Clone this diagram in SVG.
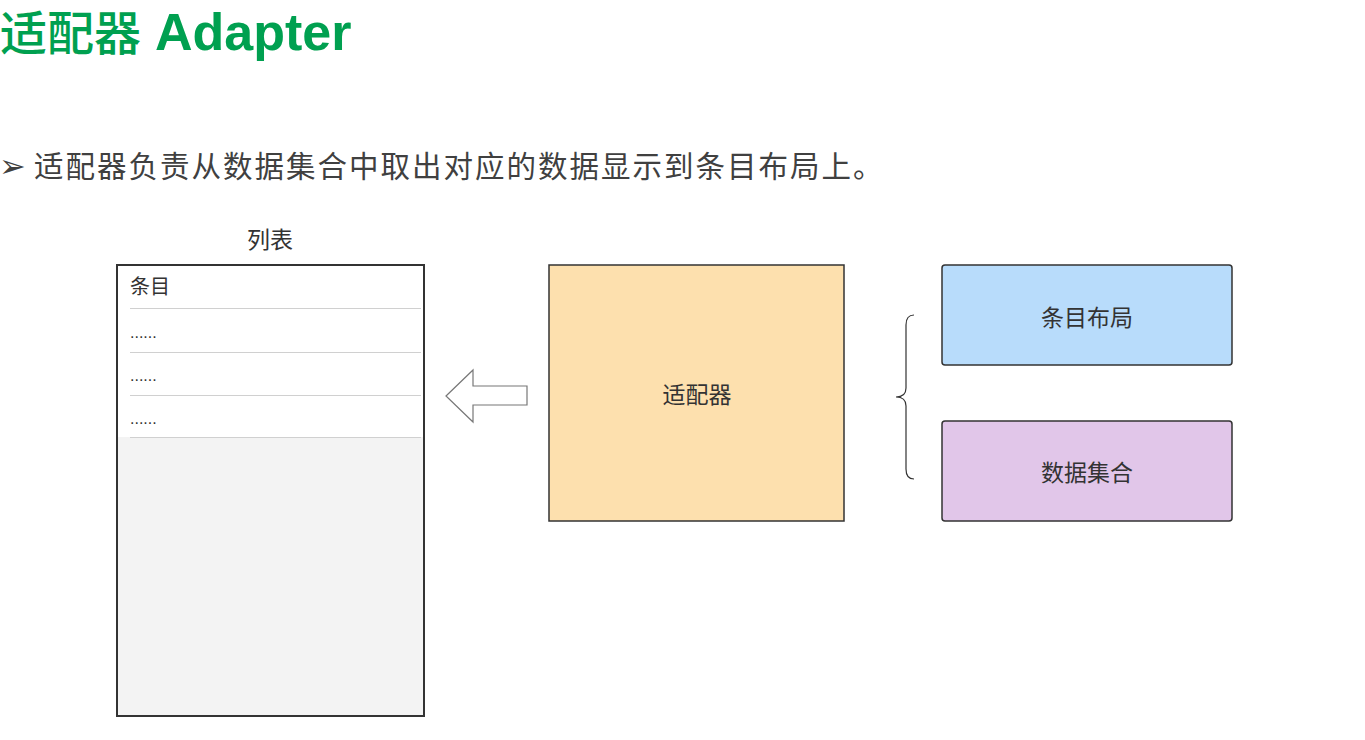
<svg xmlns="http://www.w3.org/2000/svg" width="1365" height="740" viewBox="0 0 1365 740">
<style>
.t{font-family:"Liberation Sans","Noto Sans CJK SC",sans-serif;}
.lbl{font-size:23px;fill:#333;text-anchor:middle;}
.sep{stroke:#d0d0d0;stroke-width:1;}
.dots{font-size:16px;fill:#333;}
.box{stroke:#333;stroke-width:1.5;}
</style>
<rect width="1365" height="740" fill="#fff"/>
<g id="title">
<text class="t" x="0" y="50" font-size="47" fill="#00a050"><tspan font-weight="500">适配器</tspan><tspan font-weight="bold" font-size="52" dx="14">Adapter</tspan></text>
</g>
<g id="bullet">
<text class="t" x="-1" y="177" font-size="32" fill="#404040">➢</text>
<text class="t" x="34" y="177" font-size="29.5" letter-spacing="2" fill="#404040">适配器负责从数据集合中取出对应的数据显示到条目布局上。</text>
</g>
<g id="list">
<text class="t lbl" x="270" y="248">列表</text>
<rect x="117" y="265" width="307" height="451" fill="#f3f3f3" stroke="#333" stroke-width="2"/>
<rect x="118" y="266" width="305" height="171" fill="#fff"/>
<line class="sep" x1="130" y1="308.5" x2="421" y2="308.5"/>
<line class="sep" x1="130" y1="352.5" x2="421" y2="352.5"/>
<line class="sep" x1="130" y1="395.5" x2="421" y2="395.5"/>
<line class="sep" x1="130" y1="437.5" x2="421" y2="437.5"/>
<text class="t" x="130" y="294" font-size="20" fill="#333">条目</text>
<text class="t dots" x="130" y="338">......</text>
<text class="t dots" x="130" y="381">......</text>
<text class="t dots" x="130" y="424">......</text>
</g>
<g id="connectors">
<polygon points="446,396 473,370 473,386 527,386 527,405 473,405 473,422" fill="#fff" stroke="#777" stroke-width="1.2"/>
<path d="M914,315 Q906,315 906,325 L906,388 Q906,397 896,397 Q906,397 906,406 L906,469 Q906,479 914,479" fill="none" stroke="#333" stroke-width="1.2"/>
</g>
<g id="adapter">
<rect class="box" x="549" y="265" width="295" height="256" fill="#fde0ae"/>
<text class="t lbl" x="697" y="403">适配器</text>
</g>
<g id="layout">
<rect class="box" x="942" y="265" width="290" height="100" rx="3" fill="#b8dcfb"/>
<text class="t lbl" x="1087" y="326">条目布局</text>
</g>
<g id="dataset">
<rect class="box" x="942" y="421" width="290" height="100" rx="3" fill="#e1c6e9"/>
<text class="t lbl" x="1087" y="481">数据集合</text>
</g>
</svg>
